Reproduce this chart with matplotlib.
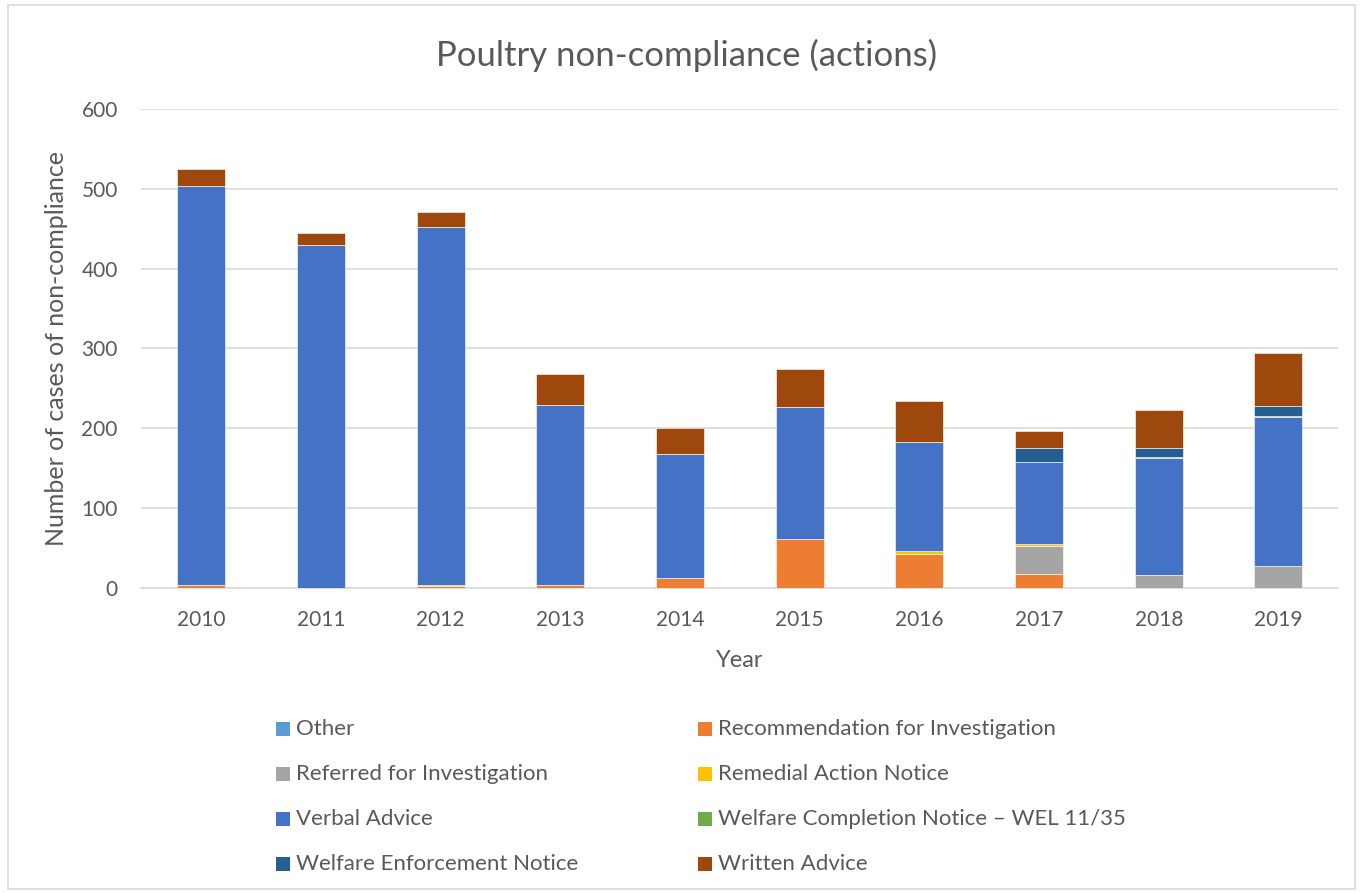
import numpy as np
import matplotlib
matplotlib.use("Agg")
import matplotlib.pyplot as plt
from matplotlib.patches import Rectangle

plt.rcParams['font.family'] = ['Lato', 'DejaVu Sans']

years = ["2010", "2011", "2012", "2013", "2014", "2015", "2016", "2017", "2018", "2019"]

other = [0, 0, 0, 0, 0, 0, 0, 0, 0, 0]
recommendation = [4, 0, 2, 4, 12, 62, 43, 17, 0, 0]
referred = [0, 0, 0, 0, 0, 0, 0, 36, 16, 28]
remedial = [0, 0, 2, 0, 0, 0, 3, 2, 0, 0]
verbal = [499, 429, 448, 225, 156, 165, 137, 103, 147, 186]
completion = [0, 0, 0, 0, 0, 0, 0, 0, 1, 2]
enforcement = [0, 0, 0, 0, 0, 0, 0, 18, 12, 12]
written = [22, 16, 19, 39, 33, 47, 51, 21, 47, 66]

series = [
    ("Other", other, "#5B9BD5"),
    ("Recommendation for Investigation", recommendation, "#ED7D31"),
    ("Referred for Investigation", referred, "#A5A5A5"),
    ("Remedial Action Notice", remedial, "#FFC000"),
    ("Verbal Advice", verbal, "#4472C4"),
    ("Welfare Completion Notice \u2013 WEL 11/35", completion, "#70AD47"),
    ("Welfare Enforcement Notice", enforcement, "#255E91"),
    ("Written Advice", written, "#9E480E"),
]

textColor = "#595959"
W, H = 1360.0, 893.0

fig = plt.figure(figsize=(13.6, 8.93), dpi=100)
ax = fig.add_axes([0.104, 0.3415, 0.88, 0.5365])

# Chart-area border like the spreadsheet export
fig.patches.append(Rectangle((0.006, 0.004), 0.99, 0.99, transform=fig.transFigure,
                             fill=False, edgecolor="#D9D9D9", lw=1.2))

x = np.arange(len(years))
bottom = np.zeros(len(years))
for name, vals, col in series:
    vals = np.array(vals, dtype=float)
    ax.bar(x, vals, 0.4, bottom=bottom, color=col, edgecolor="white",
           linewidth=0.4, label=name, zorder=3)
    bottom += vals

ax.set_ylim(0, 600)
ax.set_xlim(-0.5, len(years) - 0.5)
ax.set_yticks(np.arange(0, 601, 100))
ax.set_xticks(x)
ax.set_xticklabels(years)
ax.grid(axis="y", color="#D9D9D9", lw=1.2, zorder=0)
for s in ax.spines.values():
    s.set_visible(False)
ax.spines["bottom"].set_visible(True)
ax.spines["bottom"].set_color("#D9D9D9")
ax.spines["bottom"].set_linewidth(1.2)
ax.tick_params(axis="both", length=0, labelsize=15, colors=textColor)
ax.tick_params(axis="y", pad=17)
ax.tick_params(axis="x", pad=16)

ax.set_xlabel("Year", fontsize=17, color=textColor, labelpad=14)
ax.set_ylabel("Number of cases of non-compliance", fontsize=18, color=textColor, labelpad=10)
fig.text(0.505, 1 - 55 / H, "Poultry non-compliance (actions)", ha="center", va="center",
         fontsize=25, color=textColor)

# Legend drawn by hand: two columns, row-major order
colX = [276, 698]
rowY = [729, 774, 819, 864]
sq = 14
for i, (name, _, col) in enumerate(series):
    cx = colX[i % 2]
    cy = rowY[i // 2]
    fig.patches.append(Rectangle((cx / W, 1 - (cy + sq / 2) / H), sq / W, sq / H,
                                 transform=fig.transFigure, facecolor=col, edgecolor="none"))
    fig.text((cx + sq + 6) / W, 1 - cy / H, name, ha="left", va="center",
             fontsize=16, color=textColor)

fig.savefig("out.png", dpi=100)
